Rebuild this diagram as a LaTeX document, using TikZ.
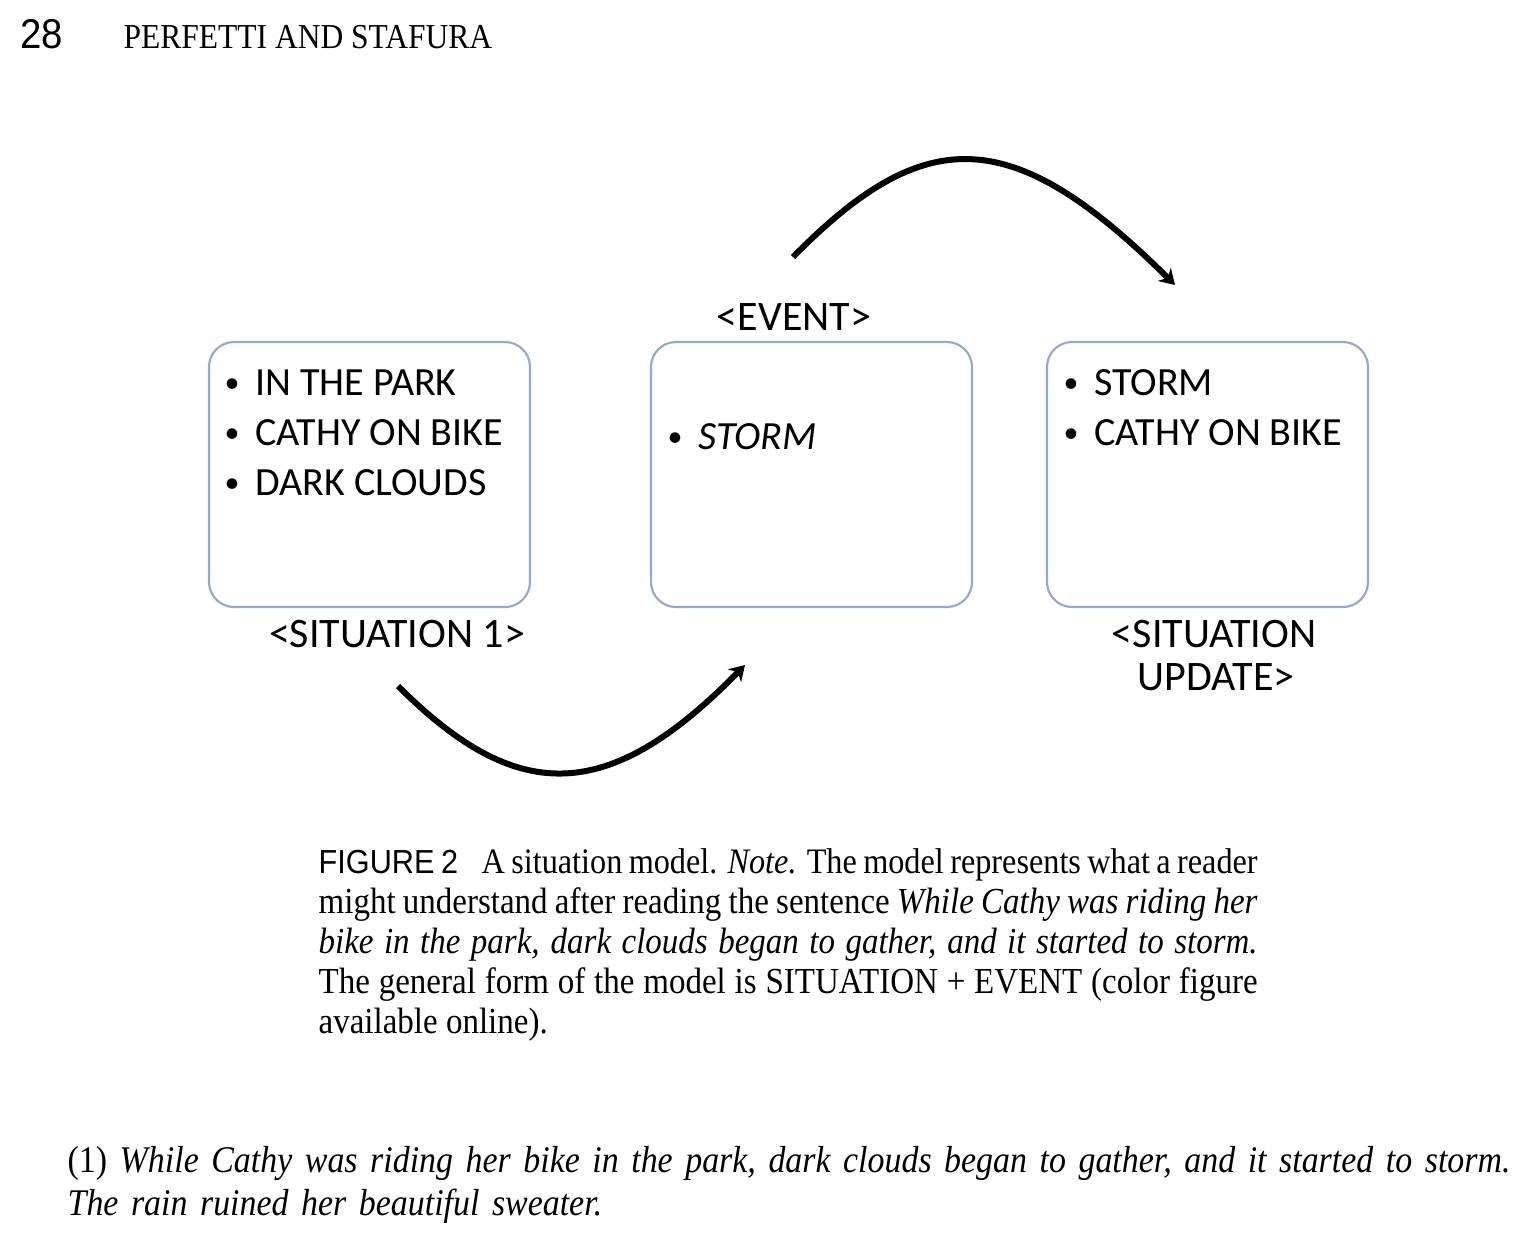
\documentclass[tikz,border=0pt]{standalone}
\usepackage{fontspec}
\setmainfont{Liberation Serif}[FakeStretch=0.9]
\newfontfamily\headsans{Liberation Sans}[FakeStretch=0.92]
\newfontfamily\diagfont{Carlito}
\usetikzlibrary{arrows.meta}
\definecolor{boxblue}{RGB}{146,170,206}
\tikzset{
  sitbox/.style={draw=boxblue, line width=0.65pt, rounded corners=7.5pt,
    minimum width=96.3pt, minimum height=79.5pt, inner sep=0pt},
  bullitem/.style={anchor=base west, inner sep=0pt,
    font=\diagfont\fontsize{12}{15}\selectfont},
  boxtag/.style={anchor=base, inner sep=0pt,
    font=\diagfont\fontsize{12.6}{15}\selectfont},
  flowarrow/.style={line width=1.8pt, -{Stealth[length=4.5pt,width=5.5pt]}}
}
\newcommand\bul{\makebox[9.2pt][l]{\raisebox{0.9pt}{\fontsize{9}{9}\selectfont\textbullet}}}
\begin{document}
\begin{tikzpicture}[x=0.3pt,y=-0.3pt]
  \useasboundingbox (0,0) rectangle (1540,1236);
  % running head
  \node[anchor=base west, inner sep=0pt, font=\headsans\fontsize{12.5}{15}\selectfont]
    (pageno) at (20,48) {28};
  \node[anchor=base west, inner sep=0pt, font=\fontsize{10.5}{12}\selectfont]
    (runhead) at (123,48) {PERFETTI AND STAFURA};
  % the three boxes
  \node[sitbox] (sit1) at (369.5,474.5) {};
  \node[sitbox] (event) at (811.5,474.5) {};
  \node[sitbox] (update) at (1207.5,474.5) {};
  \node[bullitem] (park) at (224,395) {\bul IN THE PARK};
  \node[bullitem] (bikeA) at (224,445) {\bul CATHY ON BIKE};
  \node[bullitem] (clouds) at (224,495) {\bul DARK CLOUDS};
  \node[bullitem] (storm) at (667,449) {\bul\textit{STORM}};
  \node[bullitem] (stormB) at (1063,395) {\bul STORM};
  \node[bullitem] (bikeB) at (1063,445) {\bul CATHY ON BIKE};
  \node[boxtag] (eventtag) at (794,330) {<EVENT>};
  \node[boxtag] (sit1tag) at (397,647) {<SITUATION 1>};
  \node[boxtag] (updtag) at (1214,647) {<SITUATION};
  \node[boxtag] (updtagB) at (1216,690) {UPDATE>};
  % arrows
  \coordinate (lowstart) at (398,686);
  \coordinate (lowend) at (745,665);
  \coordinate (topstart) at (793,257);
  \coordinate (topend) at (1175,285);
  \draw[flowarrow] (lowstart) .. controls (517,805) and (608,805) .. (lowend);
  \draw[flowarrow] (topstart) .. controls (925,123) and (1012,123) .. (topend);
  % caption
  \node[anchor=base west, text width=281.7pt, align=justify, inner sep=0pt,
    font=\fontsize{11}{12}\selectfont] (caption) at (318,873)
    {\hbox to\linewidth{{\headsans\fontsize{10}{12}\selectfont FIGURE 2}\hspace{7pt}%
    \fontsize{10.75}{12}\selectfont A situation model. \textit{Note.} The model
    represents what a reader}\linebreak
    might understand after reading the sentence \textit{While Cathy was riding
    her}\linebreak
    \textit{bike in the park, dark clouds began to gather, and it started to
    storm.}\linebreak
    The general form of the model is SITUATION + EVENT (color figure\linebreak
    available online).};
  % example sentence
  \node[anchor=base west, text width=450pt, align=left, inner sep=0pt,
    font=\fontsize{11.3}{12.9}\selectfont] (example) at (67,1172)
    {(1) \textit{While Cathy was riding her bike in the park, dark clouds began
    to gather, and it started to storm.}\\
    \textit{The rain ruined her beautiful sweater.}};
\end{tikzpicture}
\end{document}
